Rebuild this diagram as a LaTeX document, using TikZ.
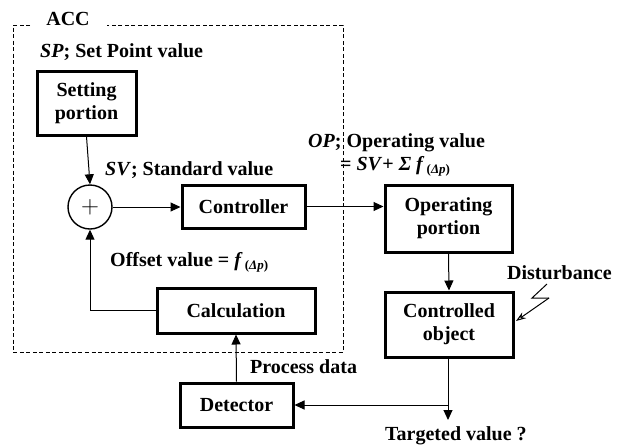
\documentclass[tikz,border=0pt]{standalone}
\usepackage{fontspec}
\setmainfont{Liberation Serif}
\usetikzlibrary{arrows.meta}
\newcommand{\dpsub}{{\fontsize{13}{14}\selectfont\raisebox{-3pt}{\,(\textit{Δp})}}}
\begin{document}
\begin{tikzpicture}[x=1pt,y=-1pt,
  txt/.style={font=\fontsize{20}{22}\selectfont\bfseries, inner sep=0pt},
  blk/.style={draw, line width=3pt, align=center, inner sep=0pt, font=\fontsize{20}{23}\selectfont\bfseries},
  arr/.style={line width=1pt, -{Triangle[length=10pt,width=9pt]}},
  ln/.style={line width=1pt},
  dsh/.style={line width=1pt, dash pattern=on 4pt off 2.5pt}]
\useasboundingbox (0,0) rectangle (622,445);
% ACC dashed frame
\draw[dsh] (30,25) -- (13,25) -- (13,352) -- (343,352) -- (343,25) -- (107,25);
\node[txt] (acc) at (68,19) {ACC};
% blocks
\node[blk, minimum width=99pt, minimum height=64pt] (set) at (86.5,103) {Setting\\portion};
\node[draw, circle, line width=1.4pt, minimum size=44pt, inner sep=0pt, font=\fontsize{28}{30}\selectfont] (sum) at (90,207) {$+$};
\node[blk, minimum width=123pt, minimum height=43pt] (ctl) at (243.5,206.5) {Controller};
\node[blk, minimum width=127pt, minimum height=67pt] (op) at (448.5,218.5) {Operating\\portion};
\node[blk, minimum width=128pt, minimum height=65pt] (obj) at (449,324.5) {Controlled\\object};
\node[blk, minimum width=158pt, minimum height=45pt] (calc) at (236,310.5) {Calculation};
\node[blk, minimum width=113pt, minimum height=44pt] (det) at (236.5,405) {Detector};
% labels
\node[txt, anchor=west] (sp) at (40,52) {\textit{SP}; Set Point value};
\node[txt, anchor=west] (sv) at (105,170) {\textit{SV}; Standard value};
\node[txt, anchor=west] (opl1) at (308,143) {\textit{OP}; Operating value};
\node[txt, anchor=west] (opl2) at (340,166) {= \textit{SV}+ \textit{Σ f}\dpsub};
\node[txt, anchor=west] (off) at (110,262) {Offset value = \textit{f}\dpsub};
\node[txt, anchor=west] (pd) at (250,367) {Process data};
\node[txt, anchor=west] (dist) at (507,273) {Disturbance};
\node[txt, anchor=west] (tv) at (385,436) {Targeted value ?};
% connectors
\draw[arr] (set.south) -- (sum.north);
\draw[arr] (sum.east) -- (ctl.west |- sum.east);
\draw[arr] (ctl.east) -- (ctl.east -| op.west);
\draw[arr] (op.south) -- (obj.north);
\coordinate (jn) at (448,405);
\coordinate (tvend) at (448,420);
\draw[arr] (obj.south -| jn) -- (tvend);
\draw[arr] (jn) -- (det.east);
\draw[arr] (det.north) -- (calc.south);
\draw[arr] (calc.west) -| (sum.south);
% disturbance lightning
\coordinate (d1) at (547,284);
\coordinate (d2) at (532,298);
\coordinate (d3) at (549,298);
\coordinate (d4) at (516,321);
\draw[ln] (d1) -- (d2) -- (d3);
\draw[line width=1pt, -{Stealth[length=10pt,width=7pt,open]}] (d3) -- (d4);
\end{tikzpicture}
\end{document}
